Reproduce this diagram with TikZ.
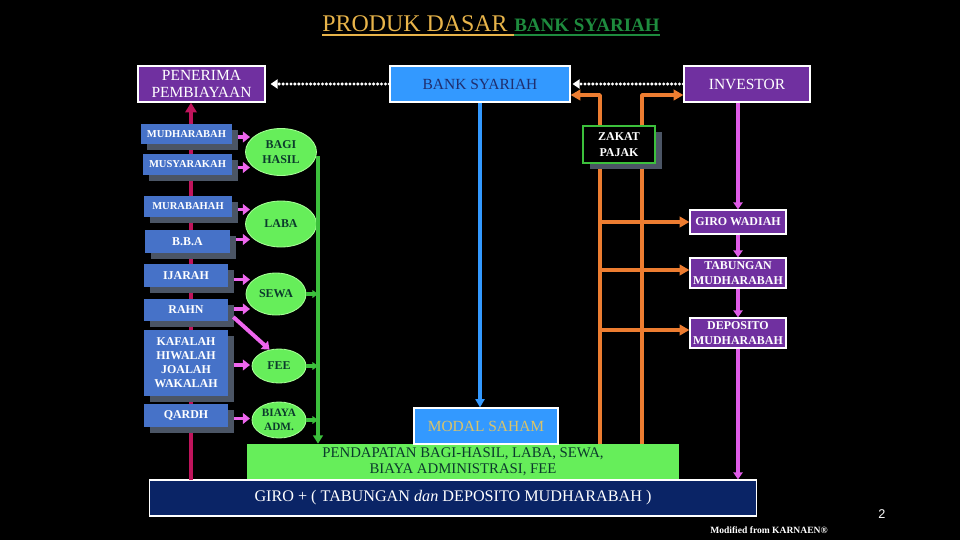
\documentclass[tikz,border=0pt]{standalone}
\usepackage{fontspec}
\setmainfont{Liberation Serif}
\newfontfamily\halfont{Liberation Sans}
\usetikzlibrary{arrows.meta,shadows,shapes.geometric,calc}

\definecolor{ungu}{HTML}{7030A0}
\definecolor{biru}{HTML}{3399FF}
\definecolor{biruprod}{HTML}{4672C8}
\definecolor{bayang}{HTML}{4B5565}
\definecolor{hijau}{HTML}{66EE5A}
\definecolor{hijaubatas}{HTML}{A6FF96}
\definecolor{hijaugaris}{HTML}{3CC03C}
\definecolor{teksgelap}{HTML}{0B3A2C}
\definecolor{navy}{HTML}{0A2466}
\definecolor{oranye}{HTML}{ED7D31}
\definecolor{merah}{HTML}{C0145C}
\definecolor{lilawarna}{HTML}{E05CE8}
\definecolor{merahmuda}{HTML}{EE66EE}
\definecolor{emas}{HTML}{E8B44A}
\definecolor{hijaujudul}{HTML}{1E8B3E}
\definecolor{modalteks}{HTML}{D9C36A}
\definecolor{bankteks}{HTML}{1F2E6E}

\begin{document}
\begin{tikzpicture}[x=0.025cm,y=0.025cm]
\tikzstyle{every node}+=[inner sep=0pt, align=center]
\tikzstyle{kotak}=[draw=white, line width=0.8pt, font=\fontsize{11}{12}\selectfont]
\tikzstyle{prod}=[fill=biruprod, text=white, font=\bfseries\fontsize{8.5}{10}\selectfont, drop shadow={shadow xshift=4.3pt, shadow yshift=-4.6pt, fill=bayang, opacity=1}]
\tikzstyle{elips}=[ellipse, fill=hijau, draw=hijaubatas, line width=0.6pt, text=teksgelap, font=\bfseries\fontsize{8.5}{10.5}\selectfont]
\tikzstyle{kanan}=[kotak, fill=ungu, text=white, font=\bfseries\fontsize{8.5}{10.6}\selectfont, minimum width=2.4cm]
\tikzstyle{panahPink}=[merahmuda, line width=2.8pt, -{Triangle[length=5pt,width=7.5pt]}]
\tikzstyle{panahHijau}=[hijaugaris, line width=2.2pt, -{Triangle[length=4pt,width=5.5pt]}]
\tikzstyle{panahOranye}=[oranye, line width=2.7pt, line join=round, -{Triangle[length=7pt,width=7.5pt]}]
\tikzstyle{panahLila}=[lilawarna, line width=2.4pt, -{Triangle[length=5pt,width=6.5pt]}]
\tikzstyle{titik}=[white, line width=2.4pt, line cap=round, dash pattern=on 0pt off 2.8pt, -{Triangle[length=5pt,width=6.5pt]}]

\fill[black] (0,0) rectangle (960,-540);
\useasboundingbox (0,0) rectangle (960,-540);

% judul
\node[anchor=base west, text=emas, font=\fontsize{17}{20}\selectfont] (judulA) at (322,-31) {PRODUK DASAR};
\node[anchor=base west, text=hijaujudul, font=\bfseries\fontsize{13.5}{16}\selectfont] (judulB) at (514,-31) {BANK SYARIAH};
\draw[emas, line width=1.4pt] ($(judulA.base west)+(0,-4)$) -- ($(judulB.base west)+(0,-4)$);
\draw[hijaujudul, line width=1.8pt] ($(judulB.base west)+(0,-4)$) -- ($(judulB.base east)+(0,-4)$);

% baris atas
\node[kotak, fill=ungu, text=white, minimum width=3.175cm, minimum height=0.9cm] (penerima) at (201.5,-84) {PENERIMA\\PEMBIAYAAN};
\node[kotak, fill=biru, text=bankteks, minimum width=4.5cm, minimum height=0.9cm] (bank) at (480,-84) {BANK SYARIAH};
\node[kotak, fill=ungu, text=white, minimum width=3.15cm, minimum height=0.9cm] (investor) at (747,-84) {INVESTOR};

% simpanan
\node[kanan, minimum height=0.6cm] (giroW) at (738,-222) {GIRO WADIAH};
\node[kanan, minimum height=0.75cm] (tabungan) at (738,-273) {TABUNGAN\\MUDHARABAH};
\node[kanan, minimum height=0.75cm] (deposito) at (738,-333) {DEPOSITO\\MUDHARABAH};

% baris bawah
\node[fill=hijau, text=teksgelap, minimum width=10.8cm, minimum height=0.9cm, font=\fontsize{10.5}{11.5}\selectfont] (pendapatan) at (463,-462) {PENDAPATAN BAGI-HASIL, LABA, SEWA,\\BIAYA ADMINISTRASI, FEE};
\node[kotak, fill=biru, text=modalteks, minimum width=3.6cm, minimum height=0.9cm] (modal) at (486,-426) {MODAL SAHAM};
\node[kotak, fill=navy, text=white, minimum width=15.15cm, minimum height=0.9cm, font=\fontsize{11.5}{13}\selectfont] (giro) at (453,-498) {GIRO + ( TABUNGAN \textit{dan} DEPOSITO MUDHARABAH )};

% garis merah ke penerima
\coordinate (merahBawah) at (191,-480);
\draw[merah, line width=2.8pt, -{Triangle[length=7pt,width=8pt]}] (merahBawah) -- (merahBawah |- penerima.south);

% produk
\node[prod, font=\bfseries\fontsize{7.5}{9}\selectfont, minimum width=2.275cm, minimum height=0.5cm] (mudharabah) at (186.5,-134) {MUDHARABAH};
\node[prod, font=\bfseries\fontsize{7.5}{9}\selectfont, minimum width=2.225cm, minimum height=0.525cm] (musyarakah) at (187.5,-164.5) {MUSYARAKAH};
\node[prod, font=\bfseries\fontsize{7.5}{9}\selectfont, minimum width=2.2cm, minimum height=0.525cm] (murabahah) at (188,-206.5) {MURABAHAH};
\node[prod, minimum width=2.125cm, minimum height=0.575cm] (bba) at (187.5,-241.5) {B.B.A};
\node[prod, minimum width=2.1cm, minimum height=0.575cm] (ijarah) at (186,-275.5) {IJARAH};
\node[prod, minimum width=2.1cm, minimum height=0.55cm] (rahn) at (186,-310) {RAHN};
\node[prod, minimum width=2.1cm, minimum height=1.65cm] (kafalah) at (186,-363) {KAFALAH\\HIWALAH\\JOALAH\\WAKALAH};
\node[prod, minimum width=2.1cm, minimum height=0.575cm] (qardh) at (186,-415.5) {QARDH};

% pendapatan bank
\node[elips, minimum width=1.775cm, minimum height=1.175cm] (bagi) at (281,-152) {BAGI\\HASIL};
\node[elips, minimum width=1.775cm, minimum height=1.15cm] (laba) at (281,-224) {LABA};
\node[elips, minimum width=1.5cm, minimum height=1.05cm] (sewa) at (276,-294) {SEWA};
\node[elips, minimum width=1.35cm, minimum height=0.85cm] (fee) at (279,-366) {FEE};
\node[elips, minimum width=1.35cm, minimum height=0.9cm, font=\bfseries\fontsize{8}{10}\selectfont] (biaya) at (279,-420) {BIAYA\\ADM.};

\coordinate (ujung) at (250,0);
\draw[panahPink] ($(mudharabah.east)+(6,-3)$) coordinate (p1) -- (p1 -| ujung);
\draw[panahPink] ($(musyarakah.east)+(6,-3)$) coordinate (p2) -- (p2 -| ujung);
\draw[panahPink] ($(murabahah.east)+(6,-3)$) coordinate (p3) -- (p3 -| ujung);
\draw[panahPink] ($(bba.east)+(6,2)$) coordinate (p4) -- (p4 -| ujung);
\draw[panahPink] ($(ijarah.east)+(6,-4)$) coordinate (p5) -- (p5 -| ujung);
\draw[panahPink] ($(rahn.east)+(6,1)$) coordinate (p6) -- (p6 -| ujung);
\draw[panahPink] ($(rahn.east)+(5,-7)$) -- (fee.120);
\draw[panahPink] ($(kafalah.east)+(6,-2)$) coordinate (p7) -- (p7 -| ujung);
\draw[panahPink] ($(qardh.east)+(6,-3)$) coordinate (p8) -- (p8 -| ujung);

% garis hijau
\coordinate (hijauAtas) at (318,-156);
\draw[hijaugaris, line width=2.6pt, -{Triangle[length=6pt,width=7pt]}] (hijauAtas) -- (hijauAtas |- pendapatan.north);
\draw[panahHijau] (sewa.east) -- (sewa.east -| hijauAtas);
\draw[panahHijau] (fee.east) -- (fee.east -| hijauAtas);
\draw[panahHijau] (biaya.east) -- (biaya.east -| hijauAtas);

% modal
\draw[biru, line width=2.6pt, -{Triangle[length=6pt,width=6.5pt]}] (bank.south) -- (bank.south |- modal.north);

% garis oranye
\coordinate (oKiri) at (600,-95);
\coordinate (oKanan) at (642,-95);
\draw[panahOranye] (oKiri |- pendapatan.north) -- (oKiri) -- (oKiri -| bank.east);
\draw[panahOranye] (oKanan |- pendapatan.north) -- (oKanan) -- (oKanan -| investor.west);
\draw[panahOranye] (oKiri |- giroW.west) -- (giroW.west);
\draw[panahOranye] ($(oKiri |- tabungan.west)+(0,3)$) -- ($(tabungan.west)+(0,3)$);
\draw[panahOranye] ($(oKiri |- deposito.west)+(0,3)$) -- ($(deposito.west)+(0,3)$);
\node[fill=black, draw=hijaugaris, line width=0.8pt, text=white, font=\bfseries\fontsize{8.5}{11}\selectfont, minimum width=1.8cm, minimum height=0.925cm, drop shadow={shadow xshift=5pt, shadow yshift=-4.3pt, fill=bayang, opacity=1}] (zakat) at (619,-144.5) {ZAKAT\\PAJAK};

% garis investor
\draw[panahLila] (giroW.north |- investor.south) -- (giroW.north);
\draw[panahLila] (giroW.south) -- (tabungan.north);
\draw[panahLila] (tabungan.south) -- (deposito.north);
\draw[panahLila] (deposito.south) -- (deposito.south |- giro.north);

% panah titik
\draw[titik] (bank.west) -- ($(penerima.east)+(5,0)$);
\draw[titik] (investor.west) -- ($(bank.east)+(2,0)$);

\node[text=white, font=\halfont\fontsize{9}{10}\selectfont] (halaman) at (882,-514) {2};
\node[text=white, font=\bfseries\fontsize{6.8}{7}\selectfont] (sumber) at (769,-530) {Modified from KARNAEN®};
\end{tikzpicture}
\end{document}
